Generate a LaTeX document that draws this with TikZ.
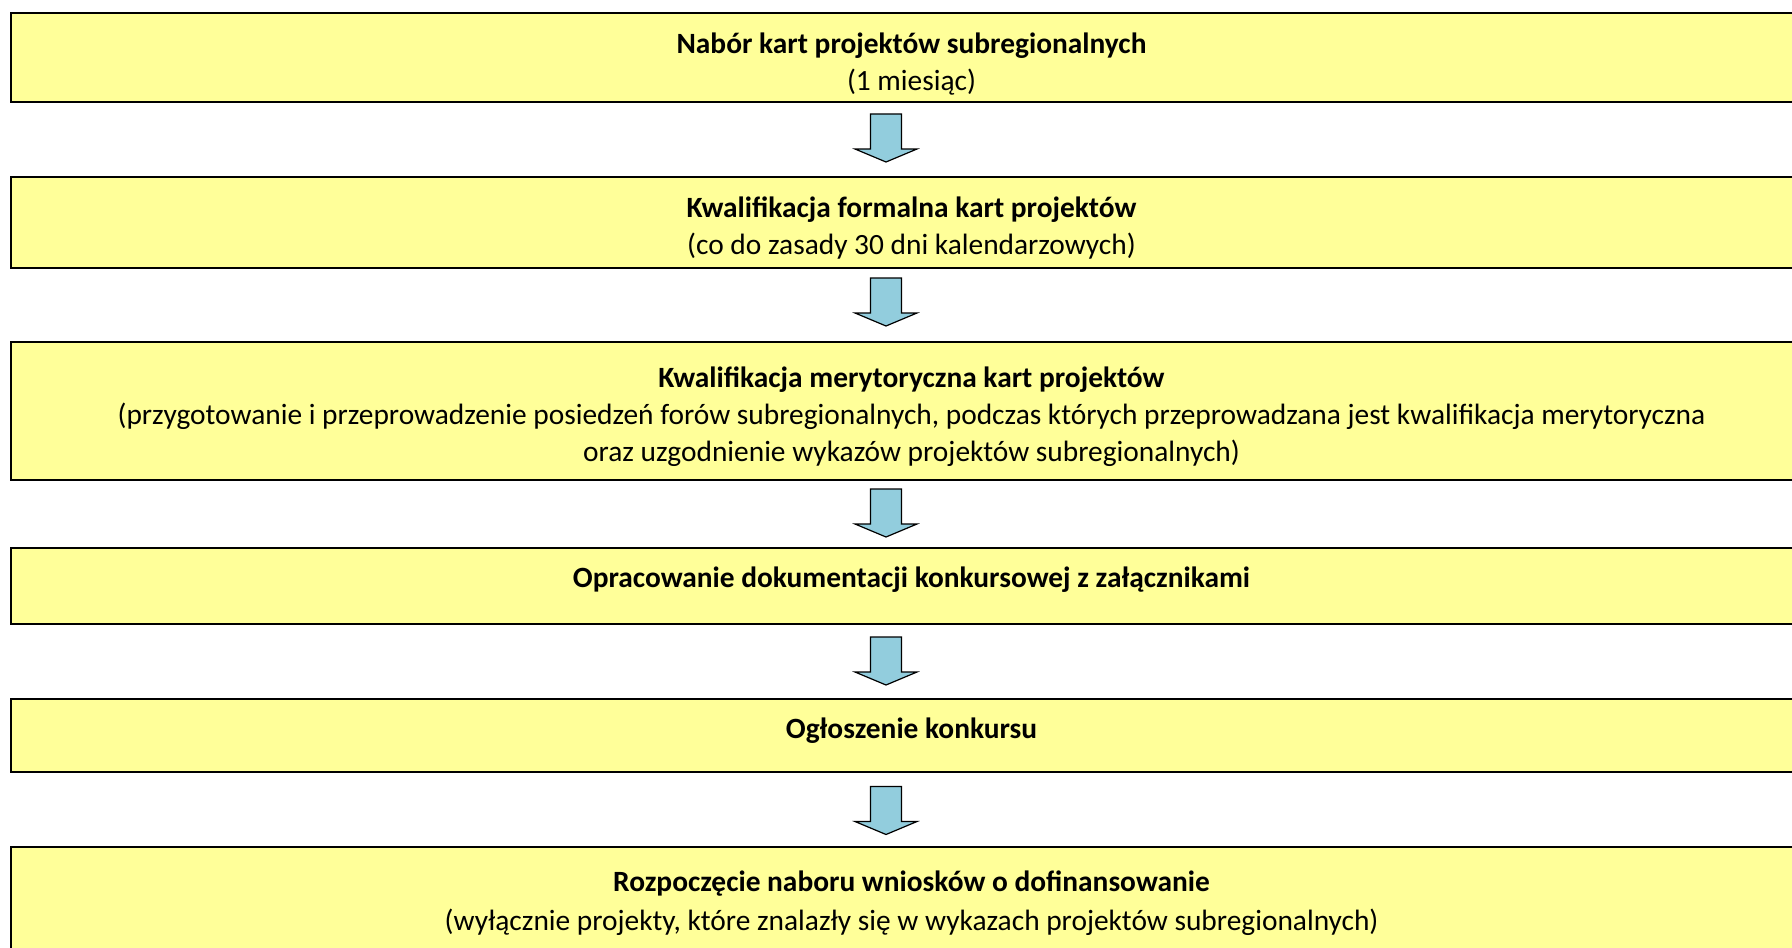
\documentclass[tikz,border=0pt]{standalone}
\usepackage{fontspec}
\setmainfont{Carlito}
\definecolor{stageyellow}{RGB}{255,255,153}
\definecolor{arrowblue}{RGB}{146,205,221}

\begin{document}
\begin{tikzpicture}[x=0.5pt,y=-0.5pt]
        \tikzstyle{stage}=[draw=black, line width=1pt, fill=stageyellow, minimum width=900.5pt, inner sep=0pt]
        \tikzstyle{stagetext}=[align=center, inner sep=0pt, font=\fontsize{14.7}{18.5}\selectfont]
        \tikzstyle{downarrow}=[draw=black, line width=0.6pt, fill=arrowblue, line join=miter]
        \useasboundingbox (0,0) rectangle (1792,947);
        % stage boxes
        \node[stage, minimum height=44.5pt] (nabor) at (911.5,57.5) {};
        \node[stage, minimum height=45.5pt] (formalna) at (911.5,222.5) {};
        \node[stage, minimum height=69pt] (merytoryczna) at (911.5,411) {};
        \node[stage, minimum height=38pt] (dokumentacja) at (911.5,586) {};
        \node[stage, minimum height=36.5pt] (ogloszenie) at (911.5,735.5) {};
        \node[stage, minimum height=56pt] (wnioski) at (911.5,903) {};
        % texts of the stages
        \node[stagetext] (nabor-t) at ([yshift=-3.5pt]nabor) {\textbf{Nabór kart projektów subregionalnych}\\(1 miesiąc)};
        \node[stagetext] (formalna-t) at ([yshift=-3pt]formalna) {\textbf{Kwalifikacja formalna kart projektów}\\(co do zasady 30 dni kalendarzowych)};
        \node[stagetext] (merytoryczna-t) at ([yshift=-3pt]merytoryczna) {\textbf{Kwalifikacja merytoryczna kart projektów}\\(przygotowanie i przeprowadzenie posiedzeń forów subregionalnych, podczas których przeprowadzana jest kwalifikacja merytoryczna\\oraz uzgodnienie wykazów projektów subregionalnych)};
        \node[stagetext] (dokumentacja-t) at ([yshift=3pt]dokumentacja) {\textbf{Opracowanie dokumentacji konkursowej z załącznikami}};
        \node[stagetext] (ogloszenie-t) at ([yshift=2.5pt]ogloszenie) {\textbf{Ogłoszenie konkursu}};
        \node[stagetext] (wnioski-t) at ([yshift=0pt]wnioski) {\textbf{Rozpoczęcie naboru wniosków o dofinansowanie}\\[1pt](wyłącznie projekty, które znalazły się w wykazach projektów subregionalnych)};
        % block arrows between the stages
        \foreach \ay in {114,278,489,637,786.5}
            \draw[downarrow] (870.5,\ay) -- ++(31,0) -- ++(0,35) -- ++(15.5,0) -- ++(-31,13) -- ++(-31,-13) -- ++(15.5,0) -- cycle;
    \end{tikzpicture}
\end{document}
